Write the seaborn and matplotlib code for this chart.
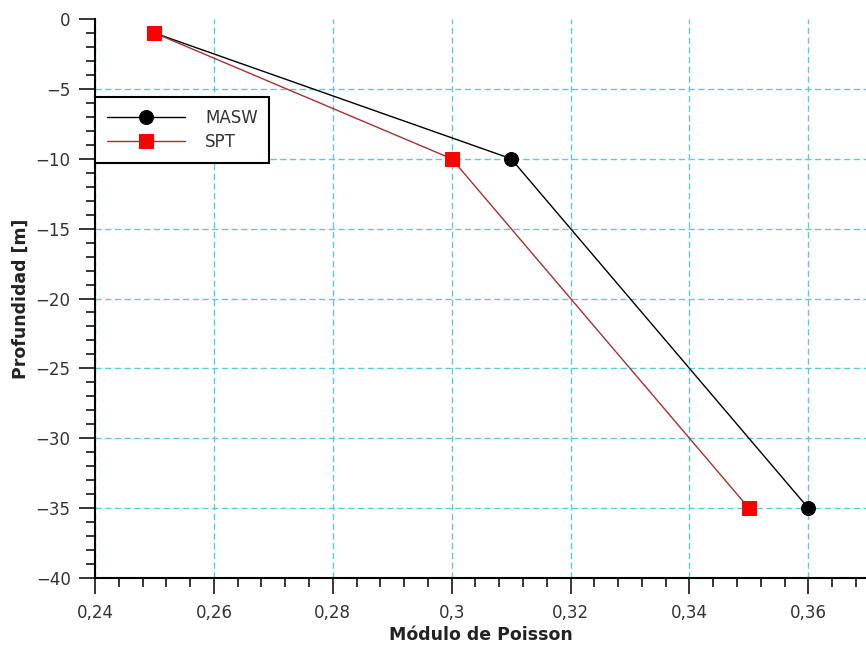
import matplotlib
matplotlib.use("Agg")
import matplotlib.pyplot as plt
import matplotlib.ticker as mticker
import seaborn as sns
import pandas as pd

# data
masw_x = [0.25, 0.31, 0.36]
masw_y = [-1, -10, -35]
spt_x = [0.25, 0.30, 0.35]
spt_y = [-1, -10, -35]

df_masw = pd.DataFrame({"poisson": masw_x, "depth": masw_y})
df_spt = pd.DataFrame({"poisson": spt_x, "depth": spt_y})

sns.set_style("white")
plt.rcParams["font.family"] = ["DejaVu Sans"]

fig = plt.figure(figsize=(8.66, 6.56), dpi=100)
ax = fig.add_axes([95 / 866, (656 - 578) / 656, (866 - 95) / 866, (578 - 19) / 656])

sns.lineplot(data=df_masw, x="poisson", y="depth", ax=ax, sort=False,
             color="black", lw=1.0, marker="o", markersize=10,
             markerfacecolor="black", markeredgecolor="black", label="MASW", zorder=3)
sns.lineplot(data=df_spt, x="poisson", y="depth", ax=ax, sort=False,
             color="#a83030", lw=1.0, marker="s", markersize=10,
             markerfacecolor="#ff0000", markeredgecolor="#ff0000", label="SPT", zorder=3)

ax.set_xlim(0.24, 0.3697)
ax.set_ylim(-40, 0)

ax.xaxis.set_major_locator(mticker.MultipleLocator(0.02))
ax.xaxis.set_minor_locator(mticker.MultipleLocator(0.004))
ax.yaxis.set_major_locator(mticker.MultipleLocator(5))
ax.yaxis.set_minor_locator(mticker.MultipleLocator(1))
ax.xaxis.set_major_formatter(mticker.FuncFormatter(lambda v, p: f"{v:g}".replace(".", ",")))
ax.yaxis.set_major_formatter(mticker.FuncFormatter(lambda v, p: f"{v:g}".replace("-", "\u2212")))

ax.tick_params(axis="both", which="both", bottom=True, left=True, top=False, right=False)
ax.tick_params(axis="both", which="major", direction="out", length=11.5, width=1.1,
               colors="black", labelsize=12, labelcolor="#333333")
ax.tick_params(axis="both", which="minor", direction="out", length=6.5, width=1.1, colors="black")
ax.tick_params(axis="x", which="major", pad=7)
ax.tick_params(axis="y", which="major", pad=6)

ax.grid(True, which="major", color="#5ccdd0", linestyle=(0, (4.5, 2.5)), lw=1.0)
for s in ["top", "right"]:
    ax.spines[s].set_visible(False)
for s in ["left", "bottom"]:
    ax.spines[s].set_color("black")
    ax.spines[s].set_linewidth(1.5)

fig.canvas.draw()
for tick in ax.yaxis.get_major_ticks():
    if abs(tick.get_loc()) < 1e-9:
        tick.gridline.set_visible(False)

ax.set_xlabel("Módulo de Poisson", fontsize=12.5, fontweight="bold", color="#222222", labelpad=3)
ax.set_ylabel("Profundidad [m]", fontsize=12.5, fontweight="bold", color="#222222", labelpad=4)

leg = ax.legend(loc="upper left", bbox_to_anchor=(0.0, 0.8605), borderaxespad=0, fontsize=12,
                frameon=True, fancybox=False, edgecolor="black", framealpha=1,
                handlelength=4.7, handletextpad=1.2, borderpad=0.7, labelspacing=0.4)
leg.get_frame().set_linewidth(1.5)
for t in leg.get_texts():
    t.set_color("#333333")

fig.savefig("out.png", dpi=100)
